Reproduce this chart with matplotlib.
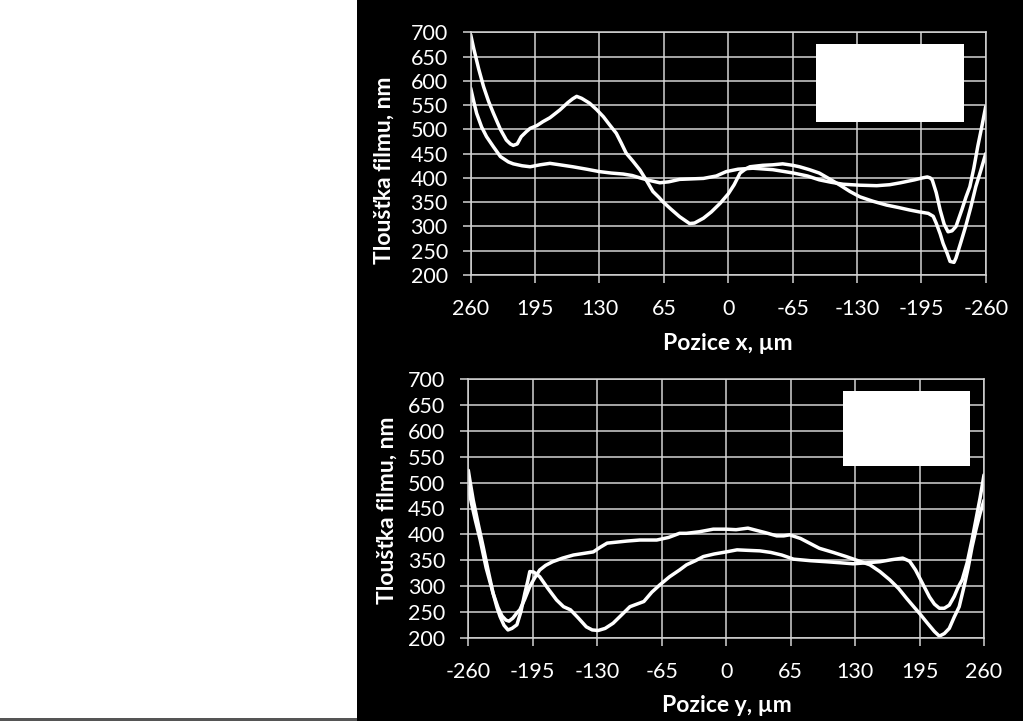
import matplotlib
matplotlib.use("Agg")
import matplotlib.pyplot as plt
from matplotlib.patches import Rectangle
import numpy as np

plt.rcParams['font.family'] = ['Lato', 'DejaVu Sans']

# ---------------- data ----------------
x_ticks = [260, 195, 130, 65, 0, -65, -130, -195, -260]
y_ticks = [200, 250, 300, 350, 400, 450, 500, 550, 600, 650, 700]

# top chart (Pozice x), curve 1
xa = [260, 257, 252, 247, 242, 237, 230, 224, 220, 217, 213, 209, 204, 200, 193, 187, 180, 170, 162,
      157, 153, 148, 140, 133, 126, 120, 113, 108, 103, 96, 89, 82, 76, 70, 66, 58, 49, 44, 39,
      34, 25, 17, 8, 0, -6, -12, -18, -22, -35, -45, -55, -65, -72, -82, -92, -103, -113, -123,
      -133, -146, -160, -172, -183, -193, -202, -207, -210, -214, -217, -221, -224, -228, -230,
      -235, -240, -245, -250, -255, -260]
ya = [695, 667, 625, 588, 558, 533, 500, 478, 470, 467, 470, 485, 495, 502, 508, 516, 524, 540, 555,
      563, 568, 564, 554, 541, 526, 510, 492, 472, 451, 434, 416, 393, 372, 360, 351, 336, 320,
      313, 306, 307, 317, 330, 348, 367, 386, 410, 419, 423, 426, 427, 429, 426, 423, 417, 410,
      397, 385, 372, 361, 352, 344, 339, 334, 330, 327, 321, 307, 285, 265, 245, 228, 226, 235,
      268, 302, 340, 382, 415, 450]

# top chart (Pozice x), curve 2
xb = [260, 257, 254, 249, 244, 237, 230, 222, 217, 208, 200, 190, 180, 170, 157, 143, 130, 118,
      106, 97, 89, 80, 69, 60, 49, 37, 25, 12, 2, -10, -25, -45, -66, -80, -92, -104, -116, -133,
      -150, -163, -174, -188, -196, -201, -204, -206, -210, -214, -218, -222, -226, -230, -236,
      -240, -244, -248, -252, -256, -260]
yb = [585, 558, 533, 505, 485, 464, 444, 433, 429, 425, 423, 427, 430, 427, 423, 418, 413, 410,
      408, 405, 400, 395, 390, 392, 397, 398, 399, 404, 413, 418, 420, 417, 410, 404, 396, 391,
      387, 385, 384, 386, 390, 396, 400, 402, 400, 396, 370, 334, 305, 289, 291, 300, 335, 360,
      382, 420, 465, 505, 547]

# bottom chart (Pozice y), curve 1
xc = [-260, -258, -255, -250, -245, -240, -235, -231, -228, -224, -220, -216, -211, -207, -203,
      -200, -198, -194, -188, -180, -171, -164, -157, -149, -141, -135, -129, -122, -114, -106,
      -97, -90, -83, -75, -67, -57, -47, -40, -31, -23, -12, 0, 11, 22, 34, 45, 56, 68, 85, 101,
      115, 128, 142, 155, 167, 178, 185, 191, 198, 205, 210, 215, 220, 225, 230, 234, 238, 243,
      248, 252, 256, 260]
yc = [524, 500, 466, 420, 376, 330, 286, 258, 241, 224, 215, 218, 225, 250, 286, 310, 328, 327,
      318, 296, 273, 260, 254, 238, 221, 215, 214, 218, 228, 243, 260, 265, 270, 288, 302, 318,
      331, 341, 349, 357, 362, 366, 370, 369, 368, 365, 360, 352, 349, 347, 345, 343, 345, 347,
      351, 354, 348, 331, 305, 279, 265, 257, 257, 263, 280, 298, 312, 345, 390, 430, 470, 515]

# bottom chart (Pozice y), curve 2
xd = [-260, -257, -253, -248, -242, -235, -230, -226, -222, -219, -215, -211, -208, -203, -198,
      -193, -188, -182, -175, -165, -154, -144, -134, -127, -120, -110, -100, -87, -70, -58, -47,
      -40, -27, -13, 0, 10, 22, 30, 40, 51, 58, 64, 75, 85, 94, 108, 121, 133, 145, 155, 165, 174,
      182, 190, 195, 203, 210, 215, 220, 225, 230, 235, 240, 244, 248, 252, 256, 260]
yd = [492, 462, 428, 389, 335, 286, 258, 242, 234, 232, 238, 248, 254, 275, 299, 316, 331, 340,
      347, 354, 360, 363, 366, 375, 383, 385, 387, 389, 389, 394, 402, 402, 405, 410, 410, 409,
      412, 408, 403, 397, 397, 399, 392, 382, 373, 365, 357, 349, 341, 328, 312, 295, 276, 258,
      247, 228, 212, 203, 208, 218, 240, 260, 300, 335, 376, 410, 440, 466]

# ---------------- figure ----------------
W, H = 1023, 721
fig = plt.figure(figsize=(W / 100, H / 100), dpi=100)
fig.patch.set_facecolor('white')

# black panel on the right
fig.add_artist(Rectangle((357 / W, 0), 1 - 357 / W, 1, transform=fig.transFigure,
                         facecolor='black', edgecolor='none', zorder=0))
# thin gray line at the bottom of white panel
fig.add_artist(Rectangle((0, 0), 357 / W, 3 / H, transform=fig.transFigure,
                         facecolor='#555555', edgecolor='none', zorder=0))

GRID = '#d4d4d4'
TXT = 'white'
LABEL_FS = 16.5


def make_axes(px_left, px_right, px_top, px_bottom):
    ax = fig.add_axes([px_left / W, 1 - px_bottom / H, (px_right - px_left) / W,
                       (px_bottom - px_top) / H])
    ax.set_facecolor('black')
    ax.patch.set_alpha(0)
    for s in ax.spines.values():
        s.set_color(GRID)
        s.set_linewidth(1.1)
    ax.grid(True, color=GRID, linewidth=1.1)
    ax.set_axisbelow(True)
    ax.tick_params(axis='both', colors=GRID, labelcolor=TXT, labelsize=15.5,
                   length=6, width=1.1, direction='out')
    ax.tick_params(axis='y', pad=10.5)
    ax.tick_params(axis='x', pad=11.5)
    ax.set_ylim(200, 700)
    ax.set_yticks(y_ticks)
    return ax


lw = 2.5
# top chart
ax1 = make_axes(470.7, 985.7, 32.3, 275)
ax1.set_xlim(260, -260)
ax1.set_xticks(x_ticks)
ax1.set_xticklabels([str(v) for v in x_ticks])
ax1.plot(xa, ya, color='white', lw=lw, solid_joinstyle='round', solid_capstyle='round')
ax1.plot(xb, yb, color='white', lw=lw, solid_joinstyle='round', solid_capstyle='round')
ax1.add_patch(Rectangle((0.670, 0.629), 0.288, 0.322, transform=ax1.transAxes,
                        facecolor='white', edgecolor='none', zorder=5))

# bottom chart
ax2 = make_axes(468.3, 984, 379.3, 637.7)
x_ticks_b = x_ticks[::-1]
ax2.set_xlim(-260, 260)
ax2.set_xticks(x_ticks_b)
ax2.set_xticklabels([str(v) for v in x_ticks_b])
ax2.plot(xc, yc, color='white', lw=lw, solid_joinstyle='round', solid_capstyle='round')
ax2.plot(xd, yd, color='white', lw=lw, solid_joinstyle='round', solid_capstyle='round')
ax2.add_patch(Rectangle((0.727, 0.664), 0.246, 0.292, transform=ax2.transAxes,
                        facecolor='white', edgecolor='none', zorder=5))

# axis titles (placed in figure pixels)
fig.text(728 / W, 1 - 344 / H, 'Pozice x, µm', color=TXT, fontsize=LABEL_FS, fontweight='bold',
         ha='center', va='center')
fig.text(727 / W, 1 - 705 / H, 'Pozice y, µm', color=TXT, fontsize=LABEL_FS, fontweight='bold',
         ha='center', va='center')
fig.text(384 / W, 1 - 170 / H, 'Tloušťka filmu, nm', color=TXT, fontsize=LABEL_FS,
         fontweight='bold', ha='center', va='center', rotation=90)
fig.text(387 / W, 1 - 510 / H, 'Tloušťka filmu, nm', color=TXT, fontsize=LABEL_FS,
         fontweight='bold', ha='center', va='center', rotation=90)

fig.savefig('out.png', dpi=100, facecolor=fig.get_facecolor())
